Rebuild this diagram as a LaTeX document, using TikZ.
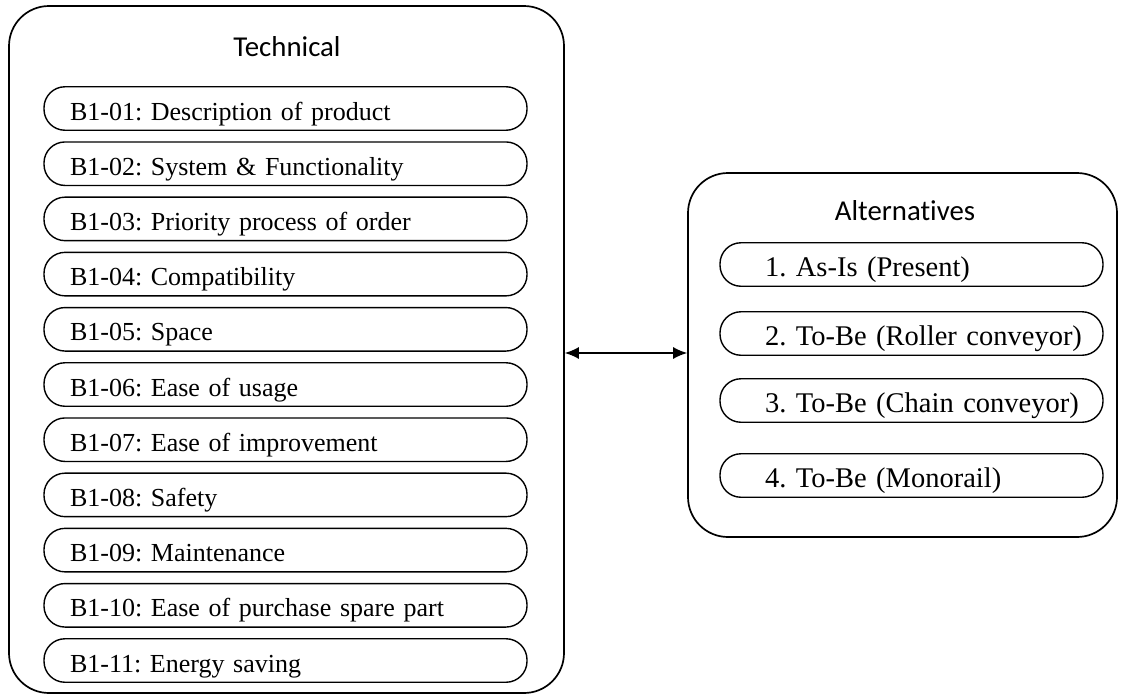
\documentclass[tikz,border=0pt]{standalone}
\usepackage{fontspec}
\setmainfont{Liberation Serif}
\newfontfamily\headfont[Ligatures=NoCommon]{Carlito}
\usetikzlibrary{arrows.meta}
\frenchspacing

\begin{document}
\begin{tikzpicture}[x=1pt, y=-1pt,
every node/.style={inner sep=0pt},
panel/.style={draw, line width=1.7pt, rounded corners=40pt},
head/.style={font=\headfont\fontsize{28.8}{34}\selectfont},
pill/.style={draw, line width=1.4pt, rounded corners=21pt, minimum height=43.5pt,
    text height=23pt, text depth=0pt, align=left},
techpill/.style={pill, minimum width=483pt, text width=431pt, inner xsep=26pt,
    font=\fontsize{26}{30}\selectfont},
altpill/.style={pill, minimum width=383pt, text width=363pt, inner xsep=10pt,
    font=\fontsize{28.5}{33}\selectfont}
]
\useasboundingbox (0,0) rectangle (1121,699);

% criteria
\node[panel, minimum width=555pt, minimum height=687pt] (tech) at (286.5,349.5) {};
\node[head] (techhead) at (287,47) {Technical};
\foreach \n/\txt [count=\k] in {01/Description of product, 02/System \& Functionality,
                    03/Priority process of order, 04/Compatibility, 05/Space,
                    06/Ease of usage, 07/Ease of improvement, 08/Safety,
                    09/Maintenance, 10/Ease of purchase spare part, 11/Energy saving%
            }
    \node[techpill] (b\n) at (285.5, 53.3+55.2*\k) {B1-\n: \txt};

% alternatives
\node[panel, minimum width=429pt, minimum height=364pt] (alt) at (902.5,355) {};
\node[head] (althead) at (905,211) {Alternatives};
\foreach \y/\txt [count=\k] in {264.5/1. As-Is (Present), 333.5/2. To-Be (Roller conveyor),
                    400.5/3. To-Be (Chain conveyor), 475.5/4. To-Be (Monorail)}
    \node[altpill] (a\k) at (911.5, \y) {\hspace*{35pt}\mbox{\txt}};

\draw [line width=1.4pt, {Latex[length=14pt,width=12pt]}-{Latex[length=14pt,width=12pt]}]
    (tech.east |- 0,353) -- (alt.west |- 0,353);
\end{tikzpicture}
\end{document}
